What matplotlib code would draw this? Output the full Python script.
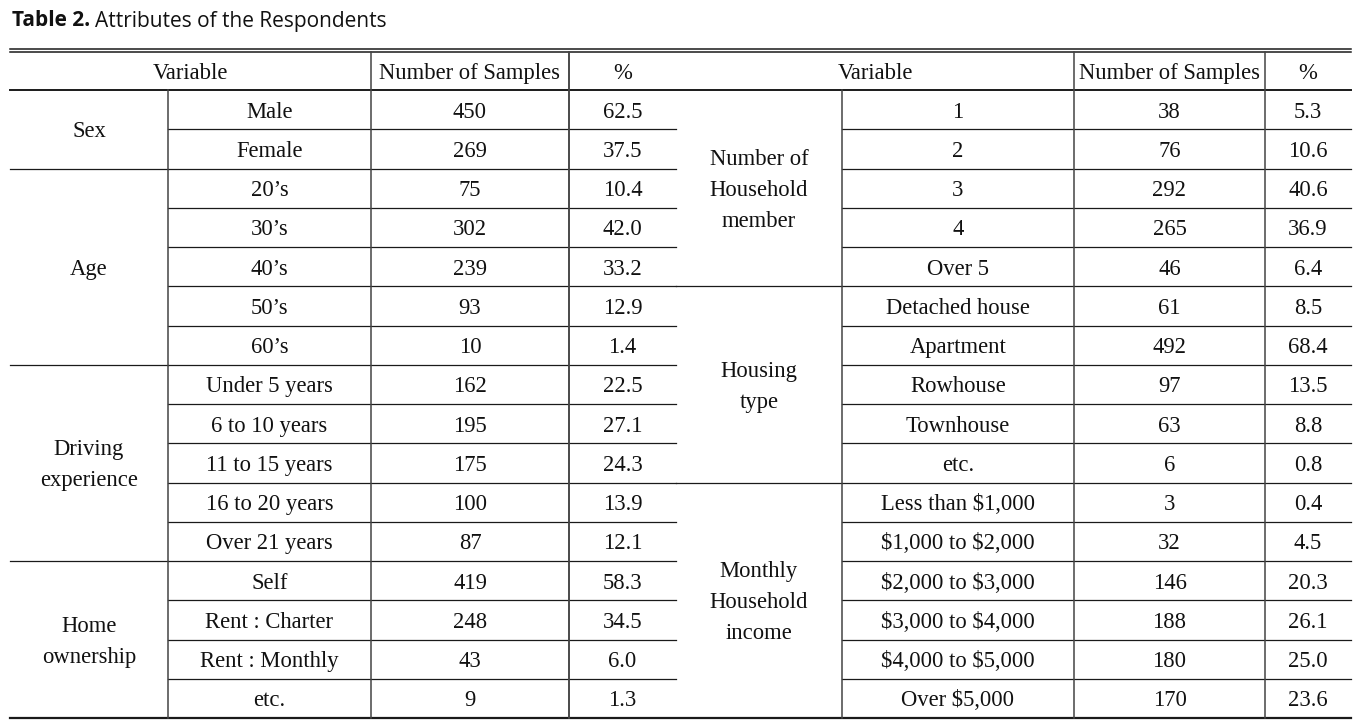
import matplotlib
matplotlib.use("Agg")
import matplotlib.pyplot as plt

plt.rcParams["text.parse_math"] = False

# ---- data ----
left_groups = ["Sex", "Age", "Driving\nexperience", "Home\nownership"]
left_group_sizes = [2, 5, 5, 4]
left_items = ["Male", "Female", "20\u2019s", "30\u2019s", "40\u2019s", "50\u2019s", "60\u2019s",
              "Under 5 years", "6 to 10 years", "11 to 15 years", "16 to 20 years",
              "Over 21 years", "Self", "Rent : Charter", "Rent : Monthly", "etc."]
left_n = [450, 269, 75, 302, 239, 93, 10, 162, 195, 175, 100, 87, 419, 248, 43, 9]
left_pct = ["62.5", "37.5", "10.4", "42.0", "33.2", "12.9", "1.4", "22.5", "27.1",
            "24.3", "13.9", "12.1", "58.3", "34.5", "6.0", "1.3"]

right_groups = ["Number of\nHousehold\nmember", "Housing\ntype", "Monthly\nHousehold\nincome"]
right_group_sizes = [5, 5, 6]
right_items = ["1", "2", "3", "4", "Over 5", "Detached house", "Apartment", "Rowhouse",
               "Townhouse", "etc.", "Less than $1,000", "$1,000 to $2,000",
               "$2,000 to $3,000", "$3,000 to $4,000", "$4,000 to $5,000", "Over $5,000"]
right_n = [38, 76, 292, 265, 46, 61, 492, 97, 63, 6, 3, 32, 146, 188, 180, 170]
right_pct = ["5.3", "10.6", "40.6", "36.9", "6.4", "8.5", "68.4", "13.5", "8.8", "0.8",
             "0.4", "4.5", "20.3", "26.1", "25.0", "23.6"]

headers = ["Variable", "Number of Samples", "%"]

# ---- layout (pixels) ----
W, H = 1370, 721
col_x = [10, 168, 371, 569, 676, 842, 1074, 1265, 1351]
top1, top2 = 48.5, 52.0
head_bot = 90.0
bottom = 718.0
n_rows = len(left_items)
row_h = (bottom - head_bot) / n_rows

serif = "Liberation Serif"
fs = 16.3
dy = 2.5      # text sits a touch low in the source
ink = "#111111"

fig = plt.figure(figsize=(W / 100, H / 100), dpi=100)
ax = fig.add_axes([0, 0, 1, 1])
ax.set_xlim(0, W)
ax.set_ylim(H, 0)
ax.axis("off")

# title
t1 = ax.text(12, 21, "Table 2.", fontsize=15, fontweight="bold", family="Open Sans",
             va="center", ha="left", color=ink)
fig.canvas.draw()
bb = t1.get_window_extent()
ax.text(bb.x1 + 5, 21, "Attributes of the Respondents", fontsize=15, family="Open Sans",
        va="center", ha="left", color=ink)

hline = "#1a1a1a"
vline = "#444444"

# top double rule, header rule, bottom rule
ax.plot([col_x[0], col_x[-1]], [top1, top1], color=hline, lw=1.1)
ax.plot([col_x[0], col_x[-1]], [top2, top2], color=hline, lw=1.1)
ax.plot([col_x[0], col_x[-1]], [head_bot, head_bot], color=hline, lw=1.4)
ax.plot([col_x[0], col_x[-1]], [bottom, bottom], color=hline, lw=1.6)

def cell(x, y, s, **kw):
    ax.text(x, y + dy, s, fontsize=fs, family=serif, ha="center", va="center", color=ink, **kw)

def draw_side(c0, groups, sizes, items, ns, pcts):
    gx0, sx0, nx0, px0, px1 = col_x[c0:c0 + 5]
    # header
    y = (top2 + head_bot) / 2
    cell((gx0 + nx0) / 2, y, headers[0])
    cell((nx0 + px0) / 2, y, headers[1])
    cell((px0 + px1) / 2, y, headers[2])
    # rows
    for i in range(len(items)):
        y = head_bot + row_h * (i + 0.5)
        cell((sx0 + nx0) / 2, y, items[i])
        cell((nx0 + px0) / 2, y, str(ns[i]))
        cell((px0 + px1) / 2, y, pcts[i])
        if i < len(items) - 1:
            yb = head_bot + row_h * (i + 1)
            ax.plot([sx0, px1], [yb, yb], color=hline, lw=0.9)
    # groups
    start = 0
    for g, s in zip(groups, sizes):
        yc = head_bot + row_h * (start + s / 2)
        cell((gx0 + sx0) / 2, yc, g, linespacing=1.63, multialignment="center")
        start += s
        if start < len(items):
            yb = head_bot + row_h * start
            ax.plot([gx0, sx0], [yb, yb], color=hline, lw=0.9)
    # vertical lines
    ax.plot([sx0, sx0], [head_bot, bottom], color=vline, lw=1.1)
    for x in (nx0, px0):
        ax.plot([x, x], [top2, bottom], color=vline, lw=1.1)

draw_side(0, left_groups, left_group_sizes, left_items, left_n, left_pct)
draw_side(4, right_groups, right_group_sizes, right_items, right_n, right_pct)
ax.plot([col_x[3], col_x[3]], [top2, bottom], color=vline, lw=1.1)

fig.savefig("out.png", dpi=100)
